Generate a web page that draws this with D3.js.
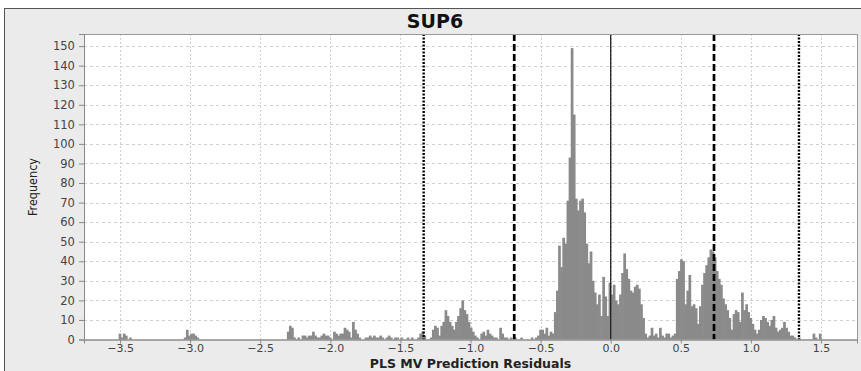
<!DOCTYPE html>
<html><head><meta charset="utf-8">
<script src="https://cdn.jsdelivr.net/npm/d3@7/dist/d3.min.js"></script>
<style>body{margin:0;background:#fff;}svg{display:block;}</style>
</head><body>
<svg id="chart" width="861" height="371"></svg>
<script>
const title = "SUP6";
const xLabel = "PLS MV Prediction Residuals";
const yLabel = "Frequency";
const binStart = -3.60;
const binWidth = 0.015;
const counts = [
0,0,0,0,0,0,3,1,3,2,0,1,0,0,0,0,0,0,0,0,
0,0,0,0,0,0,0,0,0,0,0,0,0,0,0,0,0,1,5,2,
3,3,2,1,0,0,0,0,0,0,0,0,0,0,0,0,0,0,0,0,
0,0,0,0,0,0,0,0,0,0,0,0,0,0,0,0,0,0,0,0,
0,0,0,0,0,0,4,7,6,1,0,1,0,2,2,1,2,2,4,2,
1,1,2,3,2,2,1,0,4,3,2,3,3,6,5,4,1,9,5,3,
1,0,0,1,1,2,1,2,1,1,2,1,0,1,2,1,0,1,1,0,
1,0,0,1,0,1,0,0,1,3,4,2,0,0,1,5,7,6,2,7,
9,15,12,9,7,5,9,12,16,20,15,13,9,6,4,2,1,0,3,4,
2,5,3,2,1,1,0,6,3,1,1,0,1,0,1,0,0,1,0,0,
0,0,1,0,1,2,5,5,3,6,2,4,3,14,25,48,37,52,49,71,
93,149,115,72,66,71,72,65,49,39,45,30,24,18,23,12,32,22,12,29,
23,28,20,18,23,34,44,36,31,25,24,27,28,26,18,11,3,1,2,6,
2,3,1,6,2,1,3,3,1,2,3,31,35,41,40,18,25,33,17,18,
16,8,17,28,34,38,42,46,45,42,35,31,28,21,18,15,11,5,13,15,
14,9,24,15,18,14,11,8,5,3,5,10,12,11,9,7,10,12,6,4,
5,6,9,6,4,2,2,1,0,1,0,0,0,0,0,0,3,1,0,3
];
const xTicks = [-3.5,-3.0,-2.5,-2.0,-1.5,-1.0,-0.5,0.0,0.5,1.0,1.5];
const yTicks = [0,10,20,30,40,50,60,70,80,90,100,110,120,130,140,150];
const dottedLines = [-1.334, 1.343];
const dashedLines = [-0.688, 0.737];
const solidLines = [0.0];

const svg = d3.select("#chart");
const m = {left:84, right:857, top:34, bottom:339.5};
const x = d3.scaleLinear().domain([-3.757, 1.757]).range([m.left, m.right]);
const y = d3.scaleLinear().domain([0, 156.2]).range([m.bottom, m.top]);

// frame
svg.append("rect").attr("x",4.5).attr("y",8.5).attr("width",900).attr("height",400)
  .attr("fill","#ebebeb").attr("stroke","#555").attr("stroke-width",1);

// title
svg.append("text").attr("x",435).attr("y",28).attr("text-anchor","middle")
  .attr("font-family","DejaVu Sans").attr("font-weight","bold").attr("font-size",19)
  .attr("fill","#111").text(title);

// plot background
svg.append("rect").attr("x",m.left).attr("y",m.top).attr("width",m.right-m.left).attr("height",m.bottom-m.top)
  .attr("fill","#fff");

// grid
const g = svg.append("g");
g.selectAll(".hg").data(yTicks.slice(1)).join("line")
  .attr("x1",m.left).attr("x2",m.right).attr("y1",d=>Math.round(y(d))+0.5).attr("y2",d=>Math.round(y(d))+0.5)
  .attr("stroke","#cfcfcf").attr("stroke-width",1).attr("stroke-dasharray","3,3");
g.selectAll(".vg").data(xTicks).join("line")
  .attr("y1",m.top).attr("y2",m.bottom).attr("x1",d=>Math.round(x(d))+0.5).attr("x2",d=>Math.round(x(d))+0.5)
  .attr("stroke","#cfcfcf").attr("stroke-width",1).attr("stroke-dasharray","2,2");

// bars
const bins = counts.map((c,i)=>({x0:binStart+i*binWidth, x1:binStart+(i+1)*binWidth, c}));
svg.append("g").selectAll("rect").data(bins.filter(b=>b.c>0)).join("rect")
  .attr("x",d=>x(d.x0)).attr("width",d=>x(d.x1)-x(d.x0)+0.6)
  .attr("y",d=>y(d.c)).attr("height",d=>y(0)-y(d.c))
  .attr("fill","#8a8a8a");

// reference lines
svg.append("g").selectAll("line").data(dottedLines).join("line")
  .attr("x1",d=>x(d)).attr("x2",d=>x(d)).attr("y1",m.top).attr("y2",m.bottom)
  .attr("stroke","#000").attr("stroke-width",2.4).attr("stroke-dasharray","2,1.5");
svg.append("g").selectAll("line").data(dashedLines).join("line")
  .attr("x1",d=>x(d)).attr("x2",d=>x(d)).attr("y1",m.top).attr("y2",m.bottom)
  .attr("stroke","#000").attr("stroke-width",2.7).attr("stroke-dasharray","7,3");
svg.append("g").selectAll("line").data(solidLines).join("line")
  .attr("x1",d=>x(d)).attr("x2",d=>x(d)).attr("y1",m.top).attr("y2",m.bottom)
  .attr("stroke","#222").attr("stroke-width",1.3);

// plot border
svg.append("rect").attr("x",m.left+0.5).attr("y",m.top+0.5).attr("width",m.right-m.left).attr("height",m.bottom-m.top)
  .attr("fill","none").attr("stroke","#999");

// axes
const xa = svg.append("g").attr("transform",`translate(0,${m.bottom})`)
  .call(d3.axisBottom(x).tickValues(xTicks).tickFormat(d3.format(".1f")).tickSizeOuter(0).tickSize(4).tickPadding(1));
const ya = svg.append("g").attr("transform",`translate(${m.left},0)`)
  .call(d3.axisLeft(y).tickValues(yTicks).tickFormat(d3.format("d")).tickSizeOuter(0).tickSize(5));
[xa,ya].forEach(a=>{
  a.select(".domain").attr("stroke","#888");
  a.selectAll(".tick line").attr("stroke","#888");
  a.selectAll(".tick text").attr("font-family","DejaVu Sans").attr("fill","#444");
});
xa.selectAll(".tick text").attr("font-size",11);
ya.selectAll(".tick text").attr("font-size",11.5).attr("dx","-0.1em");

// axis labels
svg.append("text").attr("x",(m.left+m.right)/2).attr("y",367.5).attr("text-anchor","middle")
  .attr("font-family","DejaVu Sans").attr("font-weight","bold").attr("font-size",12.5)
  .attr("fill","#222").text(xLabel);
svg.append("text").attr("transform",`translate(37,187) rotate(-90)`).attr("text-anchor","middle")
  .attr("font-family","DejaVu Sans Condensed, DejaVu Sans").attr("font-stretch","condensed").attr("font-size",12.5)
  .attr("fill","#222").text(yLabel);
</script>
</body></html>
